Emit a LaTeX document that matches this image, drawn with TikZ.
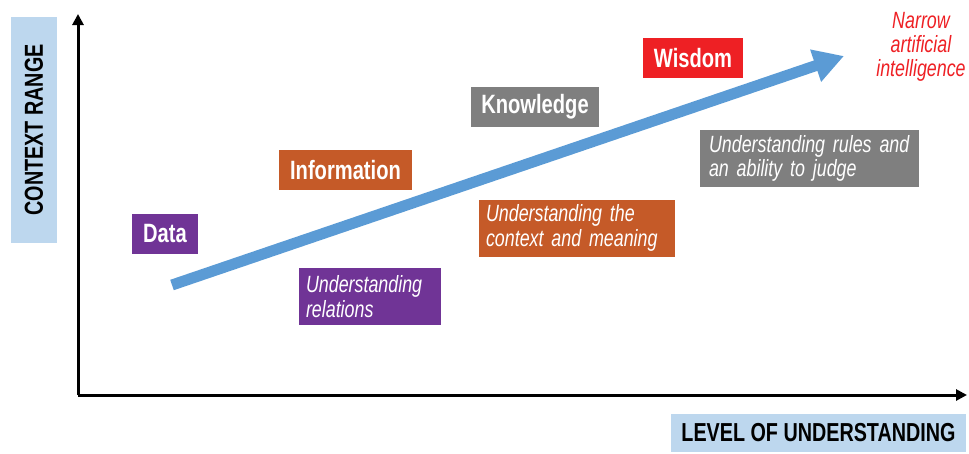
\documentclass[tikz,border=0pt]{standalone}
\usepackage{fontspec}
\setmainfont{Liberation Sans}[FakeStretch=0.76]
\usetikzlibrary{arrows.meta}
\definecolor{axisblue}{HTML}{BDD7EE}
\definecolor{arrowblue}{HTML}{5B9BD5}
\definecolor{dpurple}{HTML}{703496}
\definecolor{iorange}{HTML}{C55A28}
\definecolor{kgray}{HTML}{7F7F7F}
\definecolor{wred}{HTML}{EE2024}
\begin{document}
\begin{tikzpicture}[x=1pt,y=-1pt,
	level/.style={text=white,font=\fontsize{26.5}{30}\selectfont\bfseries,inner sep=0pt,minimum height=40pt},
	meaning/.style={text=white,font=\fontsize{23.5}{24.5}\selectfont\itshape,align=left,inner sep=0pt,minimum height=57pt},
	axislabel/.style={fill=axisblue,font=\fontsize{26}{30}\selectfont\bfseries,inner sep=0pt}]
			\useasboundingbox (0,0) rectangle (969,453);
			% axes
			\coordinate (origin) at (78,395);
			\coordinate (ytop) at (78,14);
			\coordinate (xend) at (967,395);
			\draw[line width=3pt,-{Triangle[length=11pt,width=11pt]}] (origin) -- (ytop);
			\draw[line width=3pt,-{Triangle[length=11pt,width=11pt]}] (origin) -- (xend);
			\node[axislabel,minimum width=46pt,minimum height=226pt] (yname) at (34,130) {};
			\node[rotate=90,font=\fontsize{26}{30}\selectfont\bfseries] at (yname) {CONTEXT RANGE};
			\node[axislabel,minimum width=295pt,minimum height=38pt] (xname) at (818.5,433) {LEVEL OF UNDERSTANDING};
			% growth arrow
			\coordinate (start) at (172,285);
			\coordinate (tip) at (844,56);
			\draw[arrowblue,line width=11pt,-{Triangle[length=30pt,width=32pt]}] (start) -- (tip);
			% levels
			\node[level,fill=dpurple,minimum width=66pt] (data) at (165,234) {Data};
			\node[level,fill=iorange,minimum width=133pt] (info) at (345.5,170) {Information};
			\node[level,fill=kgray,minimum width=128pt] (know) at (535,107) {Knowledge};
			\node[level,fill=wred,minimum width=100pt] (wis) at (693,58) {Wisdom};
			% meanings
			\node[meaning,fill=dpurple,minimum width=142pt,text width=128pt] (rel) at (370,296.5) {Understanding\\relations};
			\node[meaning,fill=iorange,minimum width=196pt,text width=182pt] (ctx) at (577,228) {Understanding the\\context and meaning};
			\node[meaning,fill=kgray,minimum width=219pt,text width=201pt] (rules) at (809.5,158.5) {Understanding rules and\\an ability to judge};
			\node[wred,font=\fontsize{23.5}{24}\selectfont\itshape,align=center] (nai) at (921,47) {Narrow\\artificial\\intelligence};
		\end{tikzpicture}
\end{document}
